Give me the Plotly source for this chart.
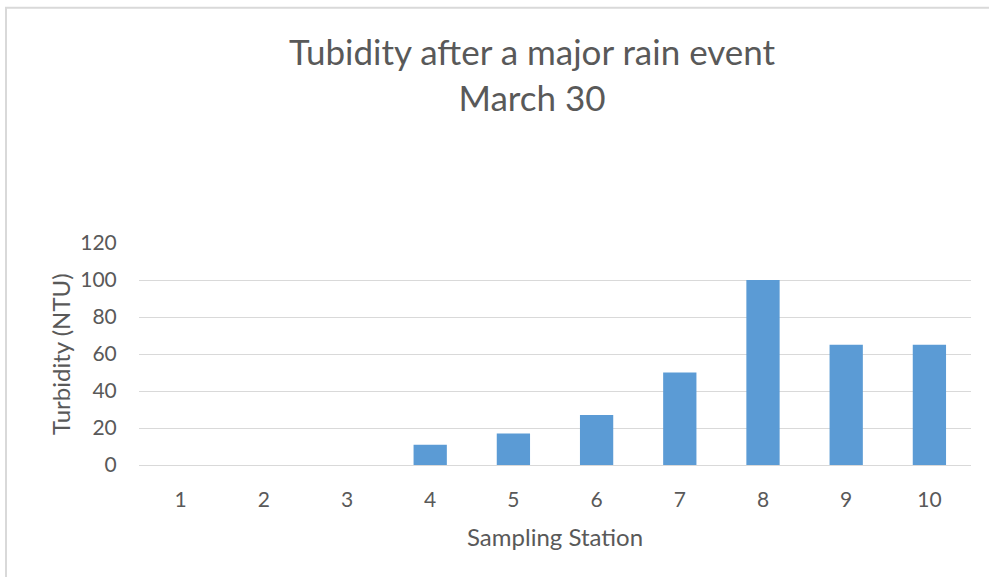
import plotly.graph_objects as go

stations = ["1", "2", "3", "4", "5", "6", "7", "8", "9", "10"]
turbidity = [0, 0, 0, 11, 17, 27, 50, 100, 65, 65]
y_ticks = [0, 20, 40, 60, 80, 100, 120]

W, H = 989, 577
L, R, T, B = 139, 18, 243, 112
pw, ph = W - L - R, H - T - B

def px(x):
    return (x - L) / pw

def py(y):
    return (H - B - y) / ph

txt = "#595959"
font = "Lato, Carlito, Calibri, sans-serif"

fig = go.Figure(go.Bar(x=stations, y=turbidity, marker=dict(color="#5B9BD5", line=dict(width=0))))

fig.update_layout(
    width=W, height=H,
    margin=dict(l=L, r=R, t=T, b=B),
    paper_bgcolor="white", plot_bgcolor="white",
    bargap=0.6,
    showlegend=False,
    font=dict(family=font, color=txt, size=16),
    xaxis=dict(type="category", showgrid=False, zeroline=False, showline=False,
               ticks="outside", ticklen=16, tickcolor="rgba(0,0,0,0)",
               tickfont=dict(size=21, color=txt)),
    yaxis=dict(range=[0, 120], tickvals=y_ticks, showgrid=True, gridcolor="#D9D9D9",
               gridwidth=1.3, zeroline=True, zerolinecolor="#D9D9D9", zerolinewidth=1.3,
               showline=False, ticks="outside", ticklen=17, tickcolor="rgba(0,0,0,0)",
               tickfont=dict(size=21, color=txt)),
    annotations=[
        dict(text="Tubidity after a major rain event<br>March 30", xref="paper", yref="paper",
             x=px(532), y=py(74), xanchor="center", yanchor="middle", showarrow=False,
             font=dict(size=35, color=txt, family=font)),
        dict(text="Sampling Station", xref="paper", yref="paper", x=px(555), y=py(536),
             xanchor="center", yanchor="middle", showarrow=False,
             font=dict(size=24, color=txt, family=font)),
        dict(text="Turbidity (NTU)", xref="paper", yref="paper", x=px(60), y=py(354),
             xanchor="center", yanchor="middle", showarrow=False, textangle=-90,
             font=dict(size=24, color=txt, family=font)),
    ],
    shapes=[
        dict(type="path", xref="paper", yref="paper",
             path=f"M {px(6)} {py(590)} L {px(6)} {py(7.7)} L {px(1000)} {py(7.7)}",
             line=dict(color="#D9D9D9", width=2)),
    ],
)

fig.write_html("out.html", config={"displayModeBar": False},
               post_script="document.body.style.margin='0';document.body.style.overflow='hidden';")
